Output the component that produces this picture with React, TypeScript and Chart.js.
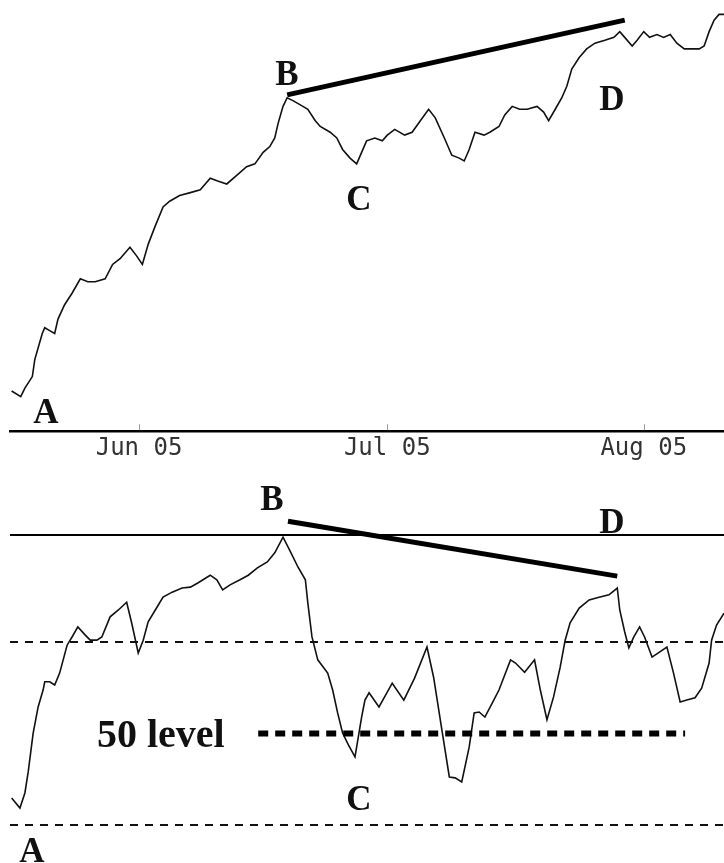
import React, { useEffect, useRef } from 'react';
import { Chart, registerables } from 'chart.js';

Chart.register(...registerables);

// ---- data (x = calendar day counted from 1 May 2005) ----
const PRICE_DAYS = [15.6, 16.7, 17.2, 18.1, 18.4, 19.3, 19.6, 20.2, 20.8, 21.2, 22.0, 22.9, 23.9, 24.8, 25.7, 26.9, 27.8, 28.7, 29.9, 30.7, 31.4, 32.1, 32.9, 33.9, 34.7, 35.9, 37.2, 38.4, 39.6, 40.5, 41.6, 42.8, 44.0, 45.0, 46.0, 46.8, 47.4, 47.8, 48.4, 48.9, 49.6, 50.8, 51.4, 52.3, 52.9, 54.1, 54.9, 55.6, 56.5, 57.3, 57.9, 58.5, 59.5, 60.4, 61.0, 61.9, 63.1, 64.0, 65.0, 66.0, 66.8, 67.9, 68.8, 69.7, 70.3, 70.9, 71.6, 72.7, 73.4, 74.5, 75.2, 76.1, 77.0, 77.9, 79.1, 79.9, 80.5, 81.3, 82.1, 82.7, 83.3, 84.2, 85.1, 86.1, 87.3, 88.4, 89.1, 89.7, 90.6, 91.2, 92.0, 92.7, 93.6, 94.4, 95.2, 96.0, 96.9, 97.8, 98.7, 99.3, 99.9, 100.5, 101.1, 101.7];
const PRICE_VALUES = [31.4, 31.2, 31.5, 31.9, 32.5, 33.4, 33.6, 33.5, 33.4, 33.9, 34.4, 34.8, 35.3, 35.2, 35.2, 35.3, 35.8, 36.0, 36.4, 36.1, 35.8, 36.5, 37.1, 37.8, 38.0, 38.2, 38.3, 38.4, 38.8, 38.7, 38.6, 38.9, 39.2, 39.3, 39.7, 39.9, 40.2, 40.7, 41.3, 41.6, 41.5, 41.3, 41.2, 40.8, 40.6, 40.4, 40.2, 39.8, 39.5, 39.3, 39.7, 40.1, 40.2, 40.1, 40.3, 40.5, 40.3, 40.4, 40.8, 41.2, 40.9, 40.2, 39.6, 39.5, 39.4, 39.8, 40.4, 40.3, 40.4, 40.6, 41.0, 41.3, 41.2, 41.2, 41.3, 41.1, 40.8, 41.2, 41.6, 42.0, 42.6, 43.0, 43.3, 43.5, 43.6, 43.7, 43.9, 43.7, 43.4, 43.6, 43.9, 43.7, 43.8, 43.7, 43.8, 43.5, 43.3, 43.3, 43.3, 43.4, 43.9, 44.3, 44.5, 44.5];

const RSI_DAYS = [15.6, 16.6, 17.2, 17.6, 18.2, 18.8, 19.4, 19.6, 20.2, 20.8, 21.4, 22.3, 22.9, 23.6, 24.5, 25.1, 25.9, 26.5, 27.5, 28.5, 29.5, 30.1, 30.9, 31.5, 32.1, 33.2, 33.9, 35.0, 36.2, 37.2, 38.1, 39.6, 40.4, 41.1, 42.0, 43.2, 44.2, 45.3, 46.5, 47.4, 48.4, 49.2, 50.2, 51.1, 51.4, 51.9, 52.6, 53.8, 54.4, 55.0, 55.6, 56.3, 57.1, 57.9, 58.3, 58.8, 60.0, 61.6, 63.0, 64.3, 65.8, 66.6, 67.6, 68.5, 69.2, 70.0, 70.9, 71.5, 72.1, 72.8, 73.7, 74.5, 75.9, 76.5, 77.6, 78.8, 79.5, 80.3, 81.1, 81.9, 82.5, 83.1, 84.2, 85.4, 86.6, 87.8, 88.8, 89.1, 89.7, 90.2, 90.8, 91.5, 92.1, 93.0, 93.9, 94.8, 95.6, 96.4, 97.2, 98.2, 99.0, 99.9, 100.2, 100.8, 101.7];
const RSI_VALUES = [35.9, 33.7, 37.0, 41.6, 50.1, 55.8, 59.5, 61.3, 61.3, 60.6, 63.2, 69.3, 71.1, 73.3, 71.5, 70.4, 70.4, 71.1, 75.5, 77.0, 78.7, 74.2, 67.6, 70.4, 74.4, 77.7, 79.8, 80.9, 81.8, 82.0, 82.9, 84.6, 83.6, 81.4, 82.5, 83.6, 84.6, 86.2, 87.5, 89.5, 92.9, 90.1, 86.4, 83.6, 78.5, 71.1, 66.1, 63.2, 59.5, 54.5, 50.1, 47.5, 44.9, 53.6, 57.3, 58.9, 55.8, 61.0, 57.3, 62.1, 68.9, 62.3, 50.8, 40.5, 40.3, 39.4, 47.0, 54.5, 54.7, 53.6, 56.7, 59.5, 66.1, 65.4, 63.4, 66.1, 59.5, 53.0, 58.0, 64.5, 70.4, 74.2, 77.4, 79.2, 79.8, 80.3, 81.8, 77.0, 72.2, 68.7, 71.1, 73.3, 71.1, 66.7, 67.8, 68.9, 63.2, 56.9, 57.3, 57.8, 59.9, 65.4, 70.4, 73.7, 76.3];

const MONTH_TICK_DAYS = [31, 61, 92];
const MONTH_TICK_LABELS = ['Jun 05', 'Jul 05', 'Aug 05'];

const PRICE_TREND_DAYS = [48.9, 89.7];
const PRICE_TREND_VALUES = [41.7, 44.3];
const RSI_TREND_DAYS = [49.0, 88.8];
const RSI_TREND_VALUES = [96.4, 84.4];

const RSI_PANE_TOP = 93.4;
const RSI_BANDS = [70, 30];
const FIFTY_LEVEL = 50;
const FIFTY_LEVEL_DAYS = [45.4, 97.0];

const DAY_MIN = 15.4;
const DAY_MAX = 101.7;
const PRICE_MIN = 30;
const PRICE_MAX = 45;
const RSI_MIN = 21.69;
const RSI_MAX = 107.6;

const PRICE_NOTES = [
  { text: 'A', day: 19.75, value: 30.28 },
  { text: 'B', day: 48.88, value: 42.04 },
  { text: 'C', day: 57.58, value: 37.69 },
  { text: 'D', day: 88.16, value: 41.17 },
];
const RSI_NOTES = [
  { text: 'B', day: 47.07, value: 98.85 },
  { text: 'D', day: 88.16, value: 93.83 },
  { text: 'C', day: 57.58, value: 33.28 },
  { text: 'A', day: 18.06, value: 21.91 },
];
const FIFTY_NOTE = { text: '50 level', day: 25.91, value: 47.05 };

const LETTER_FONT = 'bold 35px "Liberation Serif", "Times New Roman", serif';
const FIFTY_FONT = 'bold 40px "Liberation Serif", "Times New Roman", serif';

const pts = (xs: number[], ys: number[]) => xs.map((x, i) => ({ x, y: ys[i] }));

type Note = { text: string; day: number; value: number };

function makeNotesPlugin(items: Note[], font: string, align: CanvasTextAlign, extra?: { note: Note; font: string }) {
  return {
    id: 'notes',
    afterDatasetsDraw(chart: any) {
      const { ctx } = chart;
      const xs = chart.scales.x;
      const ys = chart.scales.y;
      ctx.save();
      ctx.fillStyle = '#111';
      ctx.textBaseline = 'alphabetic';
      ctx.font = font;
      ctx.textAlign = align;
      for (const n of items) {
        ctx.fillText(n.text, xs.getPixelForValue(n.day), ys.getPixelForValue(n.value));
      }
      if (extra) {
        ctx.font = extra.font;
        ctx.textAlign = 'left';
        ctx.fillText(extra.note.text, xs.getPixelForValue(extra.note.day), ys.getPixelForValue(extra.note.value));
      }
      ctx.restore();
    },
  };
}

const innerTicksPlugin = {
  id: 'innerTicks',
  afterDraw(chart: any) {
    const { ctx, chartArea } = chart;
    const xs = chart.scales.x;
    ctx.save();
    ctx.strokeStyle = '#9a9a9a';
    ctx.lineWidth = 1;
    for (const t of xs.ticks) {
      const px = Math.round(xs.getPixelForValue(t.value)) + 0.5;
      ctx.beginPath();
      ctx.moveTo(px, chartArea.bottom - 7);
      ctx.lineTo(px, chartArea.bottom - 1);
      ctx.stroke();
    }
    ctx.restore();
  },
};

function PricePanel() {
  const ref = useRef<HTMLCanvasElement | null>(null);
  useEffect(() => {
    if (!ref.current) return;
    const chart = new Chart(ref.current, {
      type: 'line',
      data: {
        datasets: [
          {
            data: pts(PRICE_DAYS, PRICE_VALUES),
            borderColor: '#111',
            borderWidth: 1.6,
            pointRadius: 0,
            tension: 0,
          },
          {
            data: pts(PRICE_TREND_DAYS, PRICE_TREND_VALUES),
            borderColor: '#000',
            borderWidth: 5,
            pointRadius: 0,
            borderCapStyle: 'butt',
          },
        ],
      },
      options: {
        responsive: false,
        animation: false,
        events: [],
        layout: { padding: { left: 10, right: 0, top: 0, bottom: 0 } },
        plugins: { legend: { display: false }, tooltip: { enabled: false } },
        scales: {
          x: {
            type: 'linear',
            position: 'bottom',
            min: DAY_MIN,
            max: DAY_MAX,
            afterBuildTicks: (scale: any) => {
              scale.ticks = MONTH_TICK_DAYS.map((v) => ({ value: v }));
            },
            grid: { display: false, drawTicks: false },
            border: { display: true, color: '#000', width: 2.5 },
            ticks: {
              autoSkip: false,
              maxRotation: 0,
              padding: 3,
              color: '#333',
              font: { family: '"DejaVu Sans Mono", monospace', size: 24 },
              callback: (v: any) => {
                const i = MONTH_TICK_DAYS.indexOf(Number(v));
                return i >= 0 ? MONTH_TICK_LABELS[i] : '';
              },
            },
          },
          y: { display: false, min: PRICE_MIN, max: PRICE_MAX },
        },
      },
      plugins: [makeNotesPlugin(PRICE_NOTES, LETTER_FONT, 'center'), innerTicksPlugin],
    } as any);
    return () => chart.destroy();
  }, []);
  return <canvas ref={ref} width={724} height={466} style={{ position: 'absolute', left: 0, top: 0 }} />;
}

function RsiPanel() {
  const ref = useRef<HTMLCanvasElement | null>(null);
  useEffect(() => {
    if (!ref.current) return;
    const bandSets = RSI_BANDS.map((v) => ({
      data: pts([DAY_MIN, DAY_MAX], [v, v]),
      borderColor: '#111',
      borderWidth: 2.2,
      borderDash: [8, 7],
      pointRadius: 0,
    }));
    const chart = new Chart(ref.current, {
      type: 'line',
      data: {
        datasets: [
          {
            data: pts([DAY_MIN, DAY_MAX], [RSI_PANE_TOP, RSI_PANE_TOP]),
            borderColor: '#000',
            borderWidth: 2,
            pointRadius: 0,
          },
          ...bandSets,
          {
            data: pts(FIFTY_LEVEL_DAYS, [FIFTY_LEVEL, FIFTY_LEVEL]),
            borderColor: '#000',
            borderWidth: 6,
            borderDash: [10, 7],
            borderCapStyle: 'butt',
            pointRadius: 0,
          },
          {
            data: pts(RSI_DAYS, RSI_VALUES),
            borderColor: '#111',
            borderWidth: 1.6,
            pointRadius: 0,
            tension: 0,
          },
          {
            data: pts(RSI_TREND_DAYS, RSI_TREND_VALUES),
            borderColor: '#000',
            borderWidth: 5,
            pointRadius: 0,
            borderCapStyle: 'butt',
          },
        ],
      },
      options: {
        responsive: false,
        animation: false,
        events: [],
        layout: { padding: { left: 10, right: 0, top: 0, bottom: 0 } },
        plugins: { legend: { display: false }, tooltip: { enabled: false } },
        scales: {
          x: { type: 'linear', display: false, min: DAY_MIN, max: DAY_MAX },
          y: { display: false, min: RSI_MIN, max: RSI_MAX },
        },
      },
      plugins: [makeNotesPlugin(RSI_NOTES, LETTER_FONT, 'center', { note: FIFTY_NOTE, font: FIFTY_FONT })],
    } as any);
    return () => chart.destroy();
  }, []);
  return <canvas ref={ref} width={724} height={393} style={{ position: 'absolute', left: 0, top: 470 }} />;
}

export default function App() {
  return (
    <div style={{ position: 'absolute', left: 0, top: 0, width: 724, height: 863, background: '#fff', overflow: 'hidden' }}>
      <PricePanel />
      <RsiPanel />
    </div>
  );
}
